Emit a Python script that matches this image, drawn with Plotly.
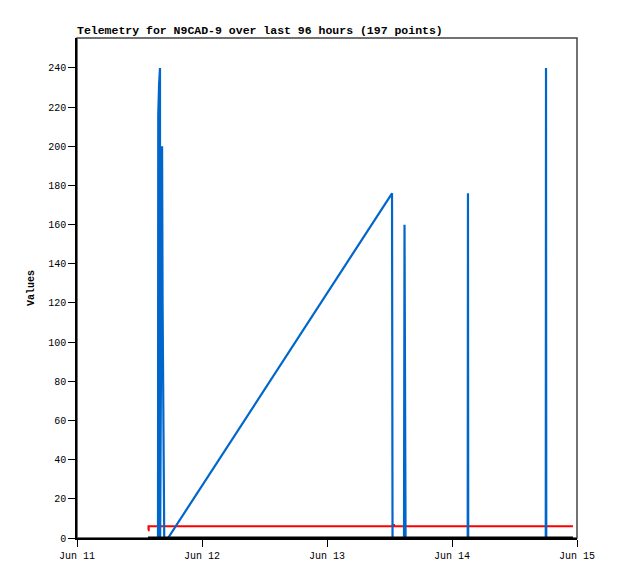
import plotly.graph_objects as go

# blue series: telemetry value readings
blue_times = [
    "2024-06-11 15:33", "2024-06-11 15:36", "2024-06-11 15:46", "2024-06-11 15:56",
    "2024-06-11 15:58", "2024-06-11 16:20", "2024-06-11 16:26", "2024-06-11 16:38",
    "2024-06-11 16:45", "2024-06-11 17:29",
    "2024-06-13 12:29", "2024-06-13 12:35",
    "2024-06-13 14:47", "2024-06-13 14:53", "2024-06-13 14:59", "2024-06-13 15:05",
    "2024-06-14 03:01", "2024-06-14 03:04", "2024-06-14 03:07",
    "2024-06-14 18:00", "2024-06-14 18:03", "2024-06-14 18:06",
]
blue_values = [
    0, 216, 232, 240,
    0, 200, 120, 40,
    0, 0,
    176, 0,
    0, 160, 80, 0,
    0, 176, 0,
    0, 240, 0,
]

# red series: near-constant reading
red_times = [
    "2024-06-11 13:38", "2024-06-11 13:45", "2024-06-11 16:00", "2024-06-13 12:30",
    "2024-06-13 12:40", "2024-06-13 12:50", "2024-06-14 03:04", "2024-06-14 18:03",
    "2024-06-14 23:14",
]
red_values = [4, 6, 6, 6, 6.6, 6, 6, 6, 6]

# black series: zero reading
black_times = ["2024-06-11 13:38", "2024-06-12 12:00", "2024-06-13 12:00", "2024-06-14 23:14"]
black_values = [0, 0, 0, 0]

mono = "Liberation Mono, DejaVu Sans Mono, monospace"

fig = go.Figure()
fig.add_trace(go.Scatter(x=red_times, y=red_values, mode="lines",
                         line=dict(color="#ff0000", width=2.2, shape="hv"), showlegend=False))
fig.add_trace(go.Scatter(x=blue_times, y=blue_values, mode="lines",
                         line=dict(color="#0066cc", width=2.2), showlegend=False))
fig.add_trace(go.Scatter(x=black_times, y=black_values, mode="lines",
                         line=dict(color="#000000", width=3), showlegend=False))

# grey frame round the plot area
fig.add_shape(type="rect", xref="x domain", yref="y domain", x0=0, x1=1, y0=0, y1=1,
              line=dict(color="#444444", width=1.5), layer="below")

# page body has an 8px margin, so the margins are shifted to land the plot at 77..577 / 38..538
fig.update_layout(
    width=618, height=579,
    margin=dict(l=69, r=49, t=30, b=49),
    paper_bgcolor="white", plot_bgcolor="white",
    font=dict(family=mono, size=10, color="#000000"),
    title=dict(text="<b>Telemetry for N9CAD-9 over last 96 hours (197 points)</b>",
               x=0, xref="paper", xanchor="left", y=1, yref="paper", yanchor="bottom",
               pad=dict(b=4), font=dict(family=mono, size=11.5, color="#000000")),
    xaxis=dict(range=["2024-06-11 00:00", "2024-06-15 00:00"], dtick=86400000,
               tickformat="%b %d", showgrid=False, zeroline=False,
               showline=True, linecolor="#000000", linewidth=1.5,
               ticks="outside", ticklen=7, tickcolor="#000000"),
    yaxis=dict(range=[0, 255.3], dtick=20, showgrid=False, zeroline=False,
               showline=True, linecolor="#000000", linewidth=1.5,
               ticks="outside", ticklen=7, tickcolor="#000000",
               title=dict(text="<b>Values</b>", font=dict(family=mono, size=10), standoff=12)),
)

fig.write_html("out.html")
